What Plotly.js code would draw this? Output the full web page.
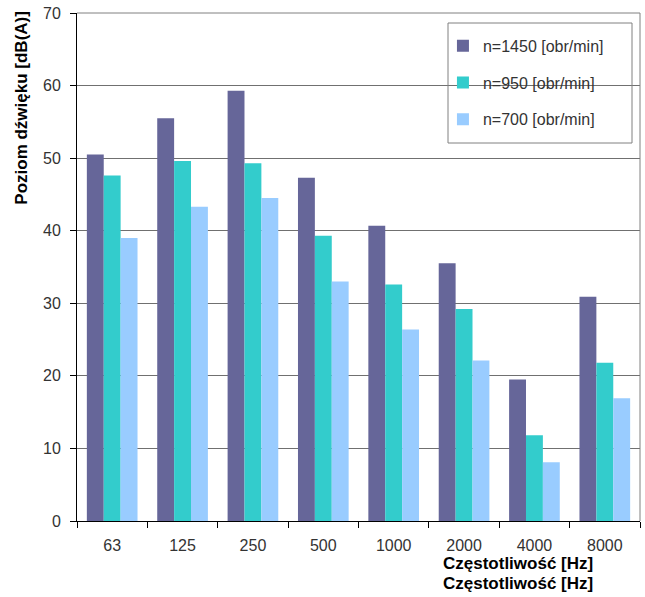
<!DOCTYPE html>
<html>
<head>
<meta charset="utf-8">
<script src="https://cdn.plot.ly/plotly-3.0.1.min.js"></script>
<style>html,body{margin:0;padding:0;background:#fff;}#chart{width:645px;height:597px;}</style>
</head>
<body>
<div id="chart"></div>
<script>
var categories = ["63", "125", "250", "500", "1000", "2000", "4000", "8000"];
var seriesNames = ["n=1450 [obr/min]", "n=950 [obr/min]", "n=700 [obr/min]"];
var n1450 = [50.5, 55.5, 59.3, 47.3, 40.7, 35.5, 19.5, 30.9];
var n950 = [47.6, 49.6, 49.3, 39.3, 32.6, 29.2, 11.8, 21.8];
var n700 = [39.0, 43.3, 44.5, 33.0, 26.4, 22.1, 8.1, 16.9];
var yTicks = [0, 10, 20, 30, 40, 50, 60, 70];
var xTitle = "Częstotliwość [Hz]";
var yTitle = "Poziom dźwięku [dB(A)]";

var colors = ["#666699", "#33CCCC", "#99CCFF"];
var values = [n1450, n950, n700];
var traces = values.map(function (v, i) {
  return {
    type: "bar", x: categories, y: v, name: seriesNames[i],
    legendgroup: "g" + i,
    marker: {color: colors[i], line: {width: 0}},
    hoverinfo: "x+y+name"
  };
});

var font = "Liberation Sans, Arial, sans-serif";
var layout = {
  width: 645, height: 597,
  margin: {l: 77, r: 5, t: 13, b: 76, pad: 0},
  paper_bgcolor: "#ffffff", plot_bgcolor: "#ffffff",
  font: {family: font, size: 16, color: "#333333"},
  barmode: "group", bargap: 0.28, bargroupgap: 0,
  showlegend: true,
  legend: {
    x: 0.65, y: 0.969, xanchor: "left", yanchor: "top",
    bgcolor: "rgba(0,0,0,0)", borderwidth: 0,
    traceorder: "grouped", tracegroupgap: 13,
    font: {family: font, size: 16, color: "#333333"}
  },
  xaxis: {
    type: "category", tickmode: "array", tickvals: categories, ticktext: categories,
    ticks: "outside", tickson: "boundaries", ticklen: 6, tickcolor: "#000",
    ticklabelstandoff: 10,
    showline: true, linecolor: "#000", linewidth: 1, mirror: false,
    showgrid: false, zeroline: false,
    tickfont: {family: font, size: 16, color: "#333333"},
    title: {text: ""}
  },
  yaxis: {
    range: [0, 70], tickmode: "array", tickvals: yTicks,
    ticks: "outside", ticklen: 6, tickcolor: "#000",
    ticklabelstandoff: 6,
    showline: true, linecolor: "#000", linewidth: 1,
    showgrid: true, gridcolor: "#707070", gridwidth: 1,
    zeroline: false,
    tickfont: {family: font, size: 16, color: "#333333"},
    title: {text: ""}
  },
  shapes: [
    {type: "line", xref: "paper", yref: "paper", x0: 1, x1: 1, y0: 0, y1: 1,
     line: {color: "#808080", width: 1}},
    {type: "line", xref: "paper", yref: "paper", x0: 0, x1: 1, y0: 1, y1: 1,
     line: {color: "#808080", width: 1}},
    {type: "rect", xref: "paper", yref: "paper", layer: "above",
     x0: (448 - 77) / 563, x1: (632 - 77) / 563,
     y0: (521 - 143) / 508, y1: (521 - 23) / 508,
     line: {color: "#808080", width: 1}, fillcolor: "rgba(0,0,0,0)"},
    {type: "rect", xref: "paper", yref: "paper", layer: "below",
     x0: (448 - 77) / 563, x1: (632 - 77) / 563,
     y0: (521 - 143) / 508, y1: (521 - 23) / 508,
     line: {width: 0}, fillcolor: "#ffffff"}
  ],
  annotations: [
    {text: "<b>" + yTitle + "</b>", xref: "paper", yref: "paper",
     x: -0.1, y: (521 - 108) / 508, xanchor: "center", yanchor: "middle", textangle: -90,
     showarrow: false, font: {family: font, size: 17, color: "#000"}},
    {text: "<b>" + xTitle + "</b>", xref: "paper", yref: "paper",
     x: 0.783, y: -0.083, xanchor: "center", yanchor: "middle",
     showarrow: false, font: {family: font, size: 17, color: "#000"}},
    {text: "<b>" + xTitle + "</b>", xref: "paper", yref: "paper",
     x: 0.783, y: -0.124, xanchor: "center", yanchor: "middle",
     showarrow: false, font: {family: font, size: 17, color: "#000"}}
  ]
};

Plotly.newPlot("chart", traces, layout, {displayModeBar: false, staticPlot: true});
</script>
</body>
</html>
